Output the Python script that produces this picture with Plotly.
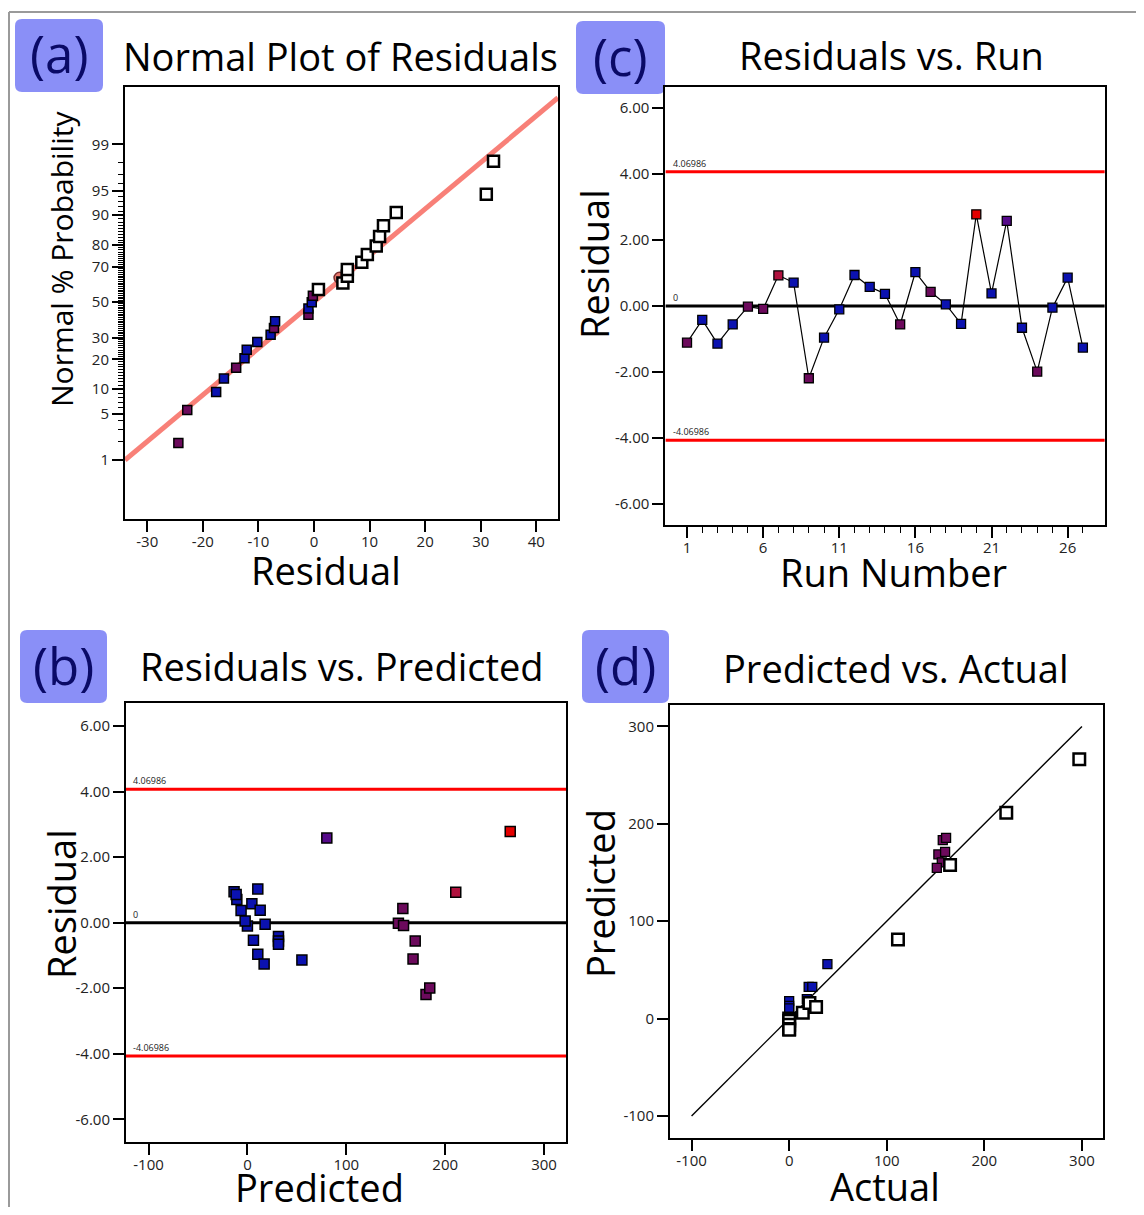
import plotly.graph_objects as go
from statistics import NormalDist

# ---------------- data ----------------
# (a) Normal plot of residuals
resid_a = [-24.4, -22.8, -17.6, -16.2, -14.0, -12.5, -12.1, -10.2, -7.8, -7.2, -7.0, -1.0, -1.0, -0.4, -0.2,
           0.8, 5.2, 6.0, 6.0, 8.6, 9.6, 11.2, 11.8, 12.5, 14.8, 31.0, 32.3]
prob_a = [1.9, 5.6, 9.3, 13.0, 16.7, 20.4, 24.1, 27.8, 31.5, 35.2, 38.9, 42.6, 46.3, 50.0, 53.7,
          57.4, 61.1, 64.8, 68.5, 72.2, 75.9, 79.6, 83.3, 87.0, 90.7, 94.4, 98.1]
color_a = ["P", "P", "B", "B", "P", "B", "B", "B", "B", "P", "B", "P", "B", "B", "P"] + ["W"] * 12
circle_a_x = [4.6]
circle_a_prob = [64.0]
fitline_a_x = [-34.0, 43.9]
fitline_a_prob = [1.0, 99.87]
prob_ticks = [1, 5, 10, 20, 30, 50, 70, 80, 90, 95, 99]
prob_minor = list(range(1, 100))
resid_a_ticks = [-30, -20, -10, 0, 10, 20, 30, 40]

# (c) Residuals vs Run   /  (b) Residuals vs Predicted
runs = list(range(1, 28))
resid_run = [-1.11, -0.42, -1.14, -0.56, -0.02, -0.09, 0.93, 0.71, -2.19, -0.96, -0.10, 0.94, 0.58, 0.37,
             -0.56, 1.03, 0.43, 0.05, -0.54, 2.78, 0.38, 2.58, -0.66, -1.99, -0.05, 0.86, -1.26]
predicted_run = [167.5, 31.4, 55.1, 31.4, 152.7, 157.9, 210.7, -10.7, 180.6, 10.5, 0.0, -13.5, 4.5, -6.4,
                 169.7, 10.5, 157.2, -2.3, 6.1, 265.8, 12.9, 80.3, 31.4, 184.4, 17.9, -11.4, 16.9]
color_run = ["P", "B", "B", "B", "P", "P", "C", "B", "P", "B", "B", "B", "B", "B",
             "P", "B", "P", "B", "B", "R", "B", "V", "B", "P", "B", "B", "B"]
limit = 4.06986
run_ticks = [1, 6, 11, 16, 21, 26]
resid_ticks = [6, 4, 2, 0, -2, -4, -6]
resid_ticktext = ["6.00", "4.00", "2.00", "0.00", "-2.00", "-4.00", "-6.00"]

# (d) Predicted vs Actual
actual_d = [0, 0, 0, 18.1, 20.0, 23.7, 39.2, 152.9, 156.4, 151.3, 159.8, 157.4, 160.8,
            0, 0, 0, 0, 0, 14.0, 20.8, 27.6, 111.5, 164.9, 222.5, 297.3]
pred_d = [17.9, 12.9, 10.5, 20.0, 32.5, 32.5, 55.8, 168.5, 160.3, 154.8, 171.2, 183.3, 185.6,
          0.0, -2.3, -6.4, -10.7, -11.4, 6.0, 16.0, 11.9, 81.2, 157.6, 211.3, 266.2]
color_d = ["B", "B", "B", "B", "B", "B", "B", "P", "P", "P", "P", "P", "P"] + ["W"] * 12
diag = [-100, 300]
big_ticks = [-100, 0, 100, 200, 300]
big_ticktext = ["-100", "0", "100", "200", "300"]

# ---------------- styles ----------------
PAL = {"B": "#0b12b0", "P": "#6c0a5c", "C": "#b0123e", "R": "#e40000", "V": "#560a8a", "W": "#ffffff"}
FONT = "Open Sans"
OFF = 8                     # page body margin of the browser
W, H = 1144 - OFF, 1215 - 2 * OFF


def fx(p):
    return (p - OFF) / W


def fy(p):
    return 1 - (p - OFF) / H


z = lambda p: NormalDist().inv_cdf(p / 100.0)

fig = go.Figure()


def squares(xs, ys, cols, xa, ya, size_c=9, size_w=11, lw_c=1.5, lw_w=2.5):
    idx_c = [i for i, c in enumerate(cols) if c != "W"]
    idx_w = [i for i, c in enumerate(cols) if c == "W"]
    if idx_c:
        fig.add_trace(go.Scatter(
            x=[xs[i] for i in idx_c], y=[ys[i] for i in idx_c], mode="markers",
            marker=dict(symbol="square", size=size_c, color=[PAL[cols[i]] for i in idx_c],
                        line=dict(color="black", width=lw_c)),
            xaxis=xa, yaxis=ya, showlegend=False, cliponaxis=False))
    if idx_w:
        fig.add_trace(go.Scatter(
            x=[xs[i] for i in idx_w], y=[ys[i] for i in idx_w], mode="markers",
            marker=dict(symbol="square", size=size_w, color="white",
                        line=dict(color="black", width=lw_w)),
            xaxis=xa, yaxis=ya, showlegend=False, cliponaxis=False))


# (a)
fig.add_trace(go.Scatter(x=fitline_a_x, y=[z(p) for p in fitline_a_prob], mode="lines",
                         line=dict(color="#f88078", width=5), xaxis="x", yaxis="y", showlegend=False))
squares(resid_a[:15], [z(p) for p in prob_a[:15]], color_a[:15], "x", "y")
fig.add_trace(go.Scatter(x=circle_a_x, y=[z(p) for p in circle_a_prob], mode="markers",
                         marker=dict(symbol="circle", size=11, color="#e8786c", line=dict(color="#7a3030", width=1.5)),
                         xaxis="x", yaxis="y", showlegend=False))
squares(resid_a[15:], [z(p) for p in prob_a[15:]], color_a[15:], "x", "y")

# (c)
for v, col in [(limit, "#ff0000"), (-limit, "#ff0000"), (0, "black")]:
    fig.add_trace(go.Scatter(x=[-0.42, 28.44], y=[v, v], mode="lines", line=dict(color=col, width=3),
                             xaxis="x2", yaxis="y2", showlegend=False, hoverinfo="skip"))
fig.add_trace(go.Scatter(x=runs, y=resid_run, mode="lines", line=dict(color="black", width=1.2),
                         xaxis="x2", yaxis="y2", showlegend=False))
squares(runs, resid_run, color_run, "x2", "y2", size_c=9, lw_c=1.3)

# (b)
for v, col in [(limit, "#ff0000"), (-limit, "#ff0000"), (0, "black")]:
    fig.add_trace(go.Scatter(x=[-122.8, 322.2], y=[v, v], mode="lines", line=dict(color=col, width=3),
                             xaxis="x3", yaxis="y3", showlegend=False, hoverinfo="skip"))
squares(predicted_run, resid_run, color_run, "x3", "y3", size_c=10, lw_c=1.5)

# (d)
fig.add_trace(go.Scatter(x=diag, y=diag, mode="lines", line=dict(color="black", width=1.4),
                         xaxis="x4", yaxis="y4", showlegend=False))
squares(actual_d, pred_d, color_d, "x4", "y4", size_c=9, size_w=11.5, lw_c=1.3, lw_w=2.5)

# ---------------- axes ----------------
tickfont = dict(family=FONT, size=15, color="#222")
common = dict(showgrid=False, zeroline=False, showline=True, mirror=True, linecolor="black", linewidth=2,
              ticks="outside", tickcolor="black", tickwidth=1.5, ticklen=11, tickfont=tickfont)
xcommon = dict(common, ticklabelstandoff=-3)

fig.update_layout(
    xaxis=dict(domain=[fx(125), fx(558)], range=[-34.0, 43.9], anchor="y", tickvals=resid_a_ticks,
               ticktext=[str(t) if t >= 0 else "-" + str(-t) for t in resid_a_ticks], **xcommon),
    yaxis=dict(domain=[fy(519), fy(87)], range=[-3.195, 3.17], anchor="x",
               tickvals=[z(p) for p in prob_ticks], ticktext=[str(p) for p in prob_ticks],
               minor=dict(tickvals=[z(p) for p in prob_minor], ticks="outside", ticklen=5,
                          tickcolor="black", tickwidth=1),
               **common),
    xaxis2=dict(domain=[fx(665.4), fx(1104.8)], range=[-0.42, 28.44], anchor="y2", tickvals=run_ticks,
                minor=dict(tickvals=runs, ticks="outside", ticklen=6, tickcolor="black", tickwidth=1.2),
                **xcommon),
    yaxis2=dict(domain=[fy(525), fy(87)], range=[-6.64, 6.64], anchor="x2", tickvals=resid_ticks,
                ticktext=resid_ticktext, **common),
    xaxis3=dict(domain=[fx(126), fx(566)], range=[-122.8, 322.2], anchor="y3", tickvals=big_ticks,
                ticktext=big_ticktext, **xcommon),
    yaxis3=dict(domain=[fy(1142), fy(703)], range=[-6.69, 6.70], anchor="x3", tickvals=resid_ticks,
                ticktext=resid_ticktext, **common),
    xaxis4=dict(domain=[fx(670), fx(1103)], range=[-122.1, 321.6], anchor="y4", tickvals=big_ticks,
                ticktext=big_ticktext, **xcommon),
    yaxis4=dict(domain=[fy(1138), fy(705)], range=[-122.7, 322], anchor="x4", tickvals=big_ticks,
                ticktext=big_ticktext, **common),
)

# ---------------- annotations & shapes ----------------
ann = []
shapes = []


def text(x, y, s, size, angle=0, color="black", xanchor="center"):
    ann.append(dict(x=fx(x), y=fy(y), xref="paper", yref="paper", text=s, showarrow=False,
                    font=dict(family=FONT, size=size, color=color), textangle=angle,
                    xanchor=xanchor, yanchor="middle"))


def rbox(x0, y0, x1, y1, r=7):
    rx, ry = r / W, r / H
    X0, X1, Y0, Y1 = fx(x0), fx(x1), fy(y1), fy(y0)
    path = (f"M {X0+rx},{Y0} L {X1-rx},{Y0} Q {X1},{Y0} {X1},{Y0+ry} L {X1},{Y1-ry} Q {X1},{Y1} {X1-rx},{Y1} "
            f"L {X0+rx},{Y1} Q {X0},{Y1} {X0},{Y1-ry} L {X0},{Y0+ry} Q {X0},{Y0} {X0+rx},{Y0} Z")
    shapes.append(dict(type="path", path=path, xref="paper", yref="paper", fillcolor="#8a8ff7",
                       line=dict(width=0), layer="below"))


# panel labels
for (x0, y0, x1, y1, lab) in [(15, 19, 103, 92, "(a)"), (576, 21, 665, 94, "(c)"),
                              (20, 630, 107, 703, "(b)"), (582, 630, 669, 703, "(d)")]:
    rbox(x0, y0, x1, y1)
    text((x0 + x1) / 2, (y0 + y1) / 2 - 2, lab, 51, color="#0a0a66")

# titles
text(340, 56, "Normal Plot of Residuals", 38)
text(891, 55, "Residuals vs. Run", 38)
text(342, 666, "Residuals vs. Predicted", 38)
text(896, 668, "Predicted vs. Actual", 38)

# axis titles
text(61, 259, "Normal % Probability", 30, angle=-90)
text(326, 570, "Residual", 38)
text(594, 264, "Residual", 38, angle=-90)
text(893, 572, "Run Number", 38)
text(61, 904, "Residual", 38, angle=-90)
text(319, 1187, "Predicted", 38)
text(600, 894, "Predicted", 38, angle=-90)
text(885, 1186, "Actual", 38)

# limit labels
for xa, ya in [("x2", "y2"), ("x3", "y3")]:
    for v, s in [(limit, "4.06986"), (-limit, "-4.06986"), (0, "0")]:
        ann.append(dict(x=0.012, y=v, xref=f"{xa} domain", yref=ya, text=s, showarrow=False,
                        font=dict(family=FONT, size=9, color="#222"), xanchor="left", yanchor="bottom"))

# outer grey frame
shapes.append(dict(type="line", xref="paper", yref="paper", x0=fx(9), x1=1.0, y0=fy(12), y1=fy(12),
                   line=dict(color="#9a9a9a", width=2)))
shapes.append(dict(type="line", xref="paper", yref="paper", x0=fx(9), x1=fx(9), y0=fy(12), y1=0,
                   line=dict(color="#9a9a9a", width=2)))

fig.update_layout(annotations=ann, shapes=shapes, width=W, height=H,
                  margin=dict(l=0, r=0, t=0, b=0), plot_bgcolor="white", paper_bgcolor="white",
                  font=dict(family=FONT), showlegend=False)

fig.write_html("out.html")
